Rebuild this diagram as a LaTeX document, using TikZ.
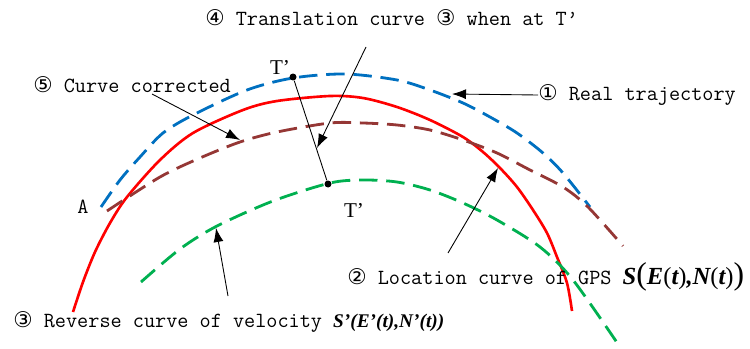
\documentclass[tikz,border=0pt]{standalone}
\usepackage{fontspec}
\setmainfont{Liberation Serif}
\newfontfamily\labfont{Latin Modern Mono}
\newfontfamily\numfont{DejaVu Sans}
\usetikzlibrary{arrows.meta,positioning,calc}
\definecolor{realblue}{RGB}{0,112,192}
\definecolor{corrbrown}{RGB}{149,55,53}
\definecolor{velgreen}{RGB}{0,176,80}
\newcommand{\cn}[1]{{\numfont #1}}
\newcommand{\gpsS}{{\rmfamily\fontsize{14}{16}\selectfont\bfseries\itshape S{\fontsize{18}{18}\selectfont\upshape\mdseries(}E{\upshape\mdseries(}t{\upshape\mdseries)},N{\upshape\mdseries(}t{\upshape\mdseries)}{\fontsize{18}{18}\selectfont\upshape\mdseries)}}}
\newcommand{\velS}{{\rmfamily\fontsize{11}{13}\selectfont\bfseries\itshape S'(E'(t),N'(t))}}

\begin{document}
\begin{tikzpicture}[x=0.02cm, y=-0.02cm,
  traj/.style={line width=1.6pt, dash pattern=on 10.5pt off 5pt},
  lab/.style={font=\fontsize{12.3}{14}\selectfont\labfont, inner sep=0pt, anchor=west},
  tlab/.style={font=\fontsize{12}{14}\selectfont, inner sep=0pt},
  pt/.style={circle, fill=black, inner sep=0pt, minimum size=0.14cm},
  ptr/.style={-{Latex[length=2.8mm,width=2mm]}, line width=0.5pt}
]
\useasboundingbox (0,0) rectangle (750,348);

% curves
\draw[traj, realblue] plot[smooth] coordinates
  {(101,207) (120,180) (140,157) (163,133) (193,115) (247,90) (293,78) (345,74) (397,80) (430,90) (463,103) (490,117) (517,133) (543,153) (563,173) (590,207)};
\draw[line width=1.5pt, red] plot[smooth] coordinates
  {(73,312) (83,282) (95,252) (110,223) (127,197) (160,160) (193,133) (243,110) (277,101) (330,96) (363,98) (397,107) (430,120) (463,137) (483,152) (500,168) (517,187) (533,210) (547,233) (557,257) (567,283) (572,311)};
\draw[traj, corrbrown] plot[smooth] coordinates
  {(107,211) (160,177) (200,158) (240,142) (277,132) (330,123) (363,123) (397,125) (430,130) (463,140) (497,153) (530,170) (563,187) (588,207) (623,246)};
\draw[traj, velgreen] plot[smooth] coordinates
  {(141,282) (180,249) (217,226) (273,201) (330,183) (363,180) (397,182) (430,190) (463,203) (497,220) (540,247) (573,280) (620,347)};

% points T'
\node[pt] (tup) at (293,77) {};
\node[pt] (tlow) at (328,184) {};
\node[tlab] (tupl) at (280,67) {T’};
\node[tlab] (tlowl) at (354,210) {T’};
\node[lab, anchor=center] (pa) at (83,207) {A};
\draw[line width=0.5pt] (tup) -- (tlow);

% labels
\node[lab] (trans) at (205,18) {\cn{④} Translation curve \cn{③} when at T’};
\node[lab] (corr) at (33,85) {\cn{⑤} Curve corrected};
\node[lab] (real) at (538,95) {\cn{①} Real trajectory};
\node[lab] (gps) at (347,277) {\cn{②} Location curve of GPS \gpsS};
\node[lab] (vel) at (13,322) {\cn{③} Reverse curve of velocity \velS};

% pointers
\coordinate (corrTail) at (152,94);
\coordinate (corrTip) at (240,140);
\coordinate (transTail) at (366,47);
\coordinate (transTip) at (317,148);
\coordinate (realTip) at (452,94);
\coordinate (gpsTail) at (448,253);
\coordinate (gpsTip) at (498,168);
\coordinate (velTail) at (228,296);
\coordinate (velTip) at (216,228);
\draw[ptr] (corrTail) -- (corrTip);
\draw[ptr] (transTail) -- (transTip);
\draw[ptr] (real.west) -- (realTip);
\draw[ptr] (gpsTail) -- (gpsTip);
\draw[ptr] (velTail) -- (velTip);
\end{tikzpicture}
\end{document}
